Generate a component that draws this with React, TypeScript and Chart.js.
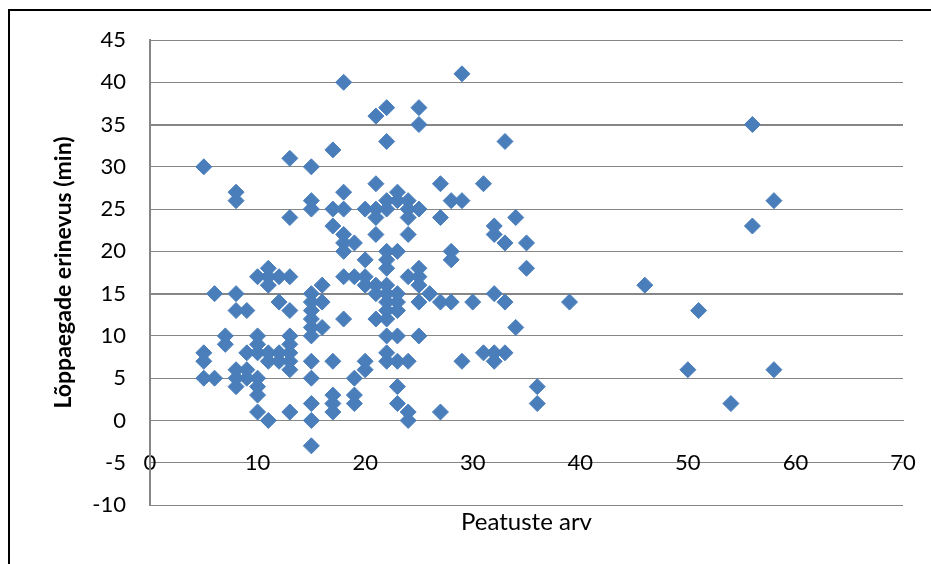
import React, { useEffect, useRef } from 'react';
import { Chart, registerables } from 'chart.js';

Chart.register(...registerables);

// Peatuste arv (number of stops), one entry per point
const stops = [
  5, 5, 5, 5,
  6, 6,
  7, 7,
  8, 8, 8, 8, 8, 8, 8,
  9, 9, 9, 9,
  10, 10, 10, 10, 10, 10, 10, 10,
  11, 11, 11, 11, 11, 11,
  12, 12, 12, 12,
  13, 13, 13, 13, 13, 13, 13, 13, 13, 13,
  15, 15, 15, 15, 15, 15, 15, 15, 15, 15, 15, 15, 15, 15,
  16, 16, 16,
  17, 17, 17, 17, 17, 17, 17,
  18, 18, 18, 18, 18, 18, 18, 18,
  19, 19, 19, 19, 19,
  20, 20, 20, 20, 20, 20,
  21, 21, 21, 21, 21, 21, 21, 21,
  22, 22, 22, 22, 22, 22, 22, 22, 22, 22, 22, 22, 22, 22, 22,
  23, 23, 23, 23, 23, 23, 23, 23, 23, 23,
  24, 24, 24, 24, 24, 24, 24, 24,
  25, 25, 25, 25, 25, 25, 25, 25,
  26,
  27, 27, 27, 27,
  28, 28, 28, 28,
  29, 29, 29,
  30,
  31, 31,
  32, 32, 32, 32, 32,
  33, 33, 33, 33,
  34, 34,
  35, 35,
  36, 36,
  39,
  46,
  50,
  51,
  54,
  56, 56,
  58, 58,
];

// Lõppaegade erinevus (min), same order as stops
const diffs = [
  30, 8, 7, 5,
  15, 5,
  10, 9,
  27, 26, 15, 13, 6, 5, 4,
  13, 8, 6, 5,
  17, 10, 9, 8, 5, 4, 3, 1,
  18, 17, 16, 8, 7, 0,
  17, 14, 8, 7,
  31, 24, 17, 13, 10, 9, 8, 7, 6, 1,
  30, 26, 25, 15, 14, 13, 12, 11, 10, 7, 5, 2, 0, -3,
  16, 14, 11,
  32, 25, 23, 7, 3, 2, 1,
  40, 27, 25, 22, 21, 20, 17, 12,
  21, 17, 5, 3, 2,
  25, 19, 17, 16, 7, 6,
  36, 28, 25, 24, 22, 16, 15, 12,
  37, 33, 26, 25, 20, 19, 18, 16, 15, 14, 13, 12, 10, 8, 7,
  27, 26, 20, 15, 14, 13, 10, 7, 4, 2,
  26, 25, 24, 22, 17, 7, 1, 0,
  37, 35, 25, 18, 17, 16, 14, 10,
  15,
  28, 24, 14, 1,
  26, 20, 19, 14,
  41, 26, 7,
  14,
  28, 8,
  23, 22, 15, 8, 7,
  33, 21, 14, 8,
  24, 11,
  21, 18,
  4, 2,
  14,
  16,
  6,
  13,
  2,
  35, 23,
  26, 6,
];

const xTicks = [0, 10, 20, 30, 40, 50, 60, 70];
const yTicks = [-10, -5, 0, 5, 10, 15, 20, 25, 30, 35, 40, 45];

const xTitle = 'Peatuste arv';
const yTitle = 'Lõppaegade erinevus (min)';

const FONT = "Lato, 'Open Sans', sans-serif";

export default function App() {
  const ref = useRef<HTMLCanvasElement>(null);

  useEffect(() => {
    const points = stops.map((x, i) => ({ x, y: diffs[i] }));
    const chart = new Chart(ref.current as HTMLCanvasElement, {
      type: 'scatter',
      data: {
        datasets: [
          {
            data: points,
            pointStyle: 'rectRot',
            pointRadius: 8,
            pointHoverRadius: 8,
            backgroundColor: '#4A7EBB',
            borderColor: '#4A7EBB',
            borderWidth: 1,
          },
        ],
      },
      options: {
        animation: false,
        responsive: false,
        devicePixelRatio: 1,
        layout: { padding: { left: 50, top: 40, right: 28, bottom: 27 } },
        plugins: {
          legend: { display: false },
          tooltip: { enabled: false },
        },
        scales: {
          x: {
            type: 'linear',
            position: { y: 0 } as any,
            min: 0,
            max: 70,
            afterBuildTicks: (s: any) => {
              s.ticks = xTicks.map((v) => ({ value: v }));
            },
            afterFit: (s: any) => {
              s.height = 0;
              s.paddingLeft = 0;
              s.paddingRight = 0;
            },
            grid: { display: false, drawTicks: false },
            border: { display: true, color: '#868686', width: 1 },
            ticks: {
              padding: 29,
              color: '#000',
              maxRotation: 0,
              autoSkip: false,
              font: { family: FONT, size: 22 },
            },
          },
          x2: {
            type: 'linear',
            position: 'bottom',
            display: true,
            afterFit: (s: any) => {
              s.height = 32;
              s.paddingLeft = 0;
              s.paddingRight = 0;
            },
            grid: { display: false, drawTicks: false },
            border: { display: false },
            ticks: { display: false },
            title: {
              display: true,
              text: xTitle,
              color: '#000',
              padding: 0,
              font: { family: FONT, size: 24 },
            },
          },
          y: {
            type: 'linear',
            min: -10,
            max: 45,
            afterBuildTicks: (s: any) => {
              s.ticks = yTicks.map((v) => ({ value: v }));
            },
            afterFit: (s: any) => {
              s.width = 100;
            },
            grid: {
              color: '#868686',
              drawTicks: false,
              lineWidth: (c: any) =>
                c.tick && (c.tick.value === 35 || c.tick.value === 15) ? 2 : 1,
            },
            border: { display: true, color: '#868686', width: 2 },
            ticks: {
              padding: 24,
              color: '#000',
              autoSkip: false,
              font: { family: FONT, size: 22 },
            },
            title: {
              display: true,
              text: yTitle,
              color: '#000',
              padding: 0,
              font: { family: FONT, size: 23, weight: 'bold' },
            },
          },
        },
      },
    });
    return () => chart.destroy();
  }, []);

  return (
    <div
      style={{
        position: 'fixed',
        left: 0,
        top: 0,
        width: 931,
        height: 564,
        overflow: 'hidden',
        background: '#fff',
      }}
    >
      <div
        style={{
          position: 'absolute',
          left: 8,
          top: 9,
          width: 960,
          height: 600,
          borderTop: '2px solid #000',
          borderLeft: '2px solid #000',
        }}
      />
      <canvas
        ref={ref}
        width={931}
        height={564}
        style={{ position: 'absolute', left: 0, top: 0, width: 931, height: 564 }}
      />
    </div>
  );
}
